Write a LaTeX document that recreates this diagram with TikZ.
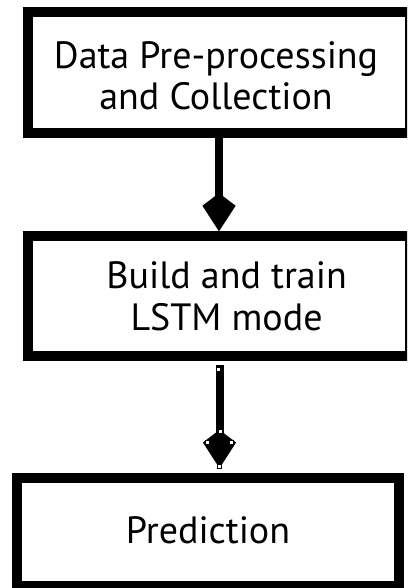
\documentclass[tikz,border=0pt]{standalone}
\usepackage{fontspec}
\setmainfont{PT Sans}
\usetikzlibrary{arrows.meta}
\tikzset{
  box/.style={draw=black, line width=9.5pt, fill=white, inner sep=0pt, minimum width=382pt},
  boxtext/.style={align=center, inner sep=0pt, anchor=base, font=\fontsize{38}{41.7}\selectfont},
  flow/.style={draw=black, line width=8pt, line cap=butt},
  kite/.style={-{Kite[length=38pt, width=33pt, inset=12.5pt, line width=0.01pt]}},
  handle/.style={draw=black, fill=white, line width=0.7pt, minimum size=4pt, inner sep=0pt}
}
\begin{document}
\begin{tikzpicture}[x=1pt, y=-1pt]
  \useasboundingbox (0,0) rectangle (407,588);
  \clip (0,0) rectangle (407,588);
  \fill[white] (0,0) rectangle (407,588);

  % the three process boxes
  \node[box, minimum height=121pt] (b1) at (219,72.5) {};
  \node[box, minimum height=120pt] (b2) at (219,296) {};
  \node[box, minimum height=108pt] (b3) at (208,532) {};

  % box captions (anchored on the baseline of the last line)
  \node[boxtext] (t1) at (216,110) {Data Pre-processing\\and Collection};
  \node[boxtext] (t2) at (226.6,330) {Build and train\\LSTM mode};
  \node[boxtext] (t3) at (208,543.3) {Prediction};

  % first connector: box 1 to box 2
  \coordinate (x1) at (219,0);
  \draw[flow, kite] (b1.south -| x1) -- (b2.north -| x1);

  % second connector, with its editing handles
  \coordinate (s2) at (219.5,365);
  \coordinate (e2) at (219.5,468);
  \draw[flow, kite] (s2) -- (e2);
  \node[handle] (h0) at (218.3,369) {};
  \node[handle] (h1) at (220,431.5) {};
  \node[handle] (h2) at (207.3,442.7) {};
  \node[handle] (h3) at (231,442.7) {};
  \node[handle] (h4) at (219.5,466.5) {};
\end{tikzpicture}
\end{document}
